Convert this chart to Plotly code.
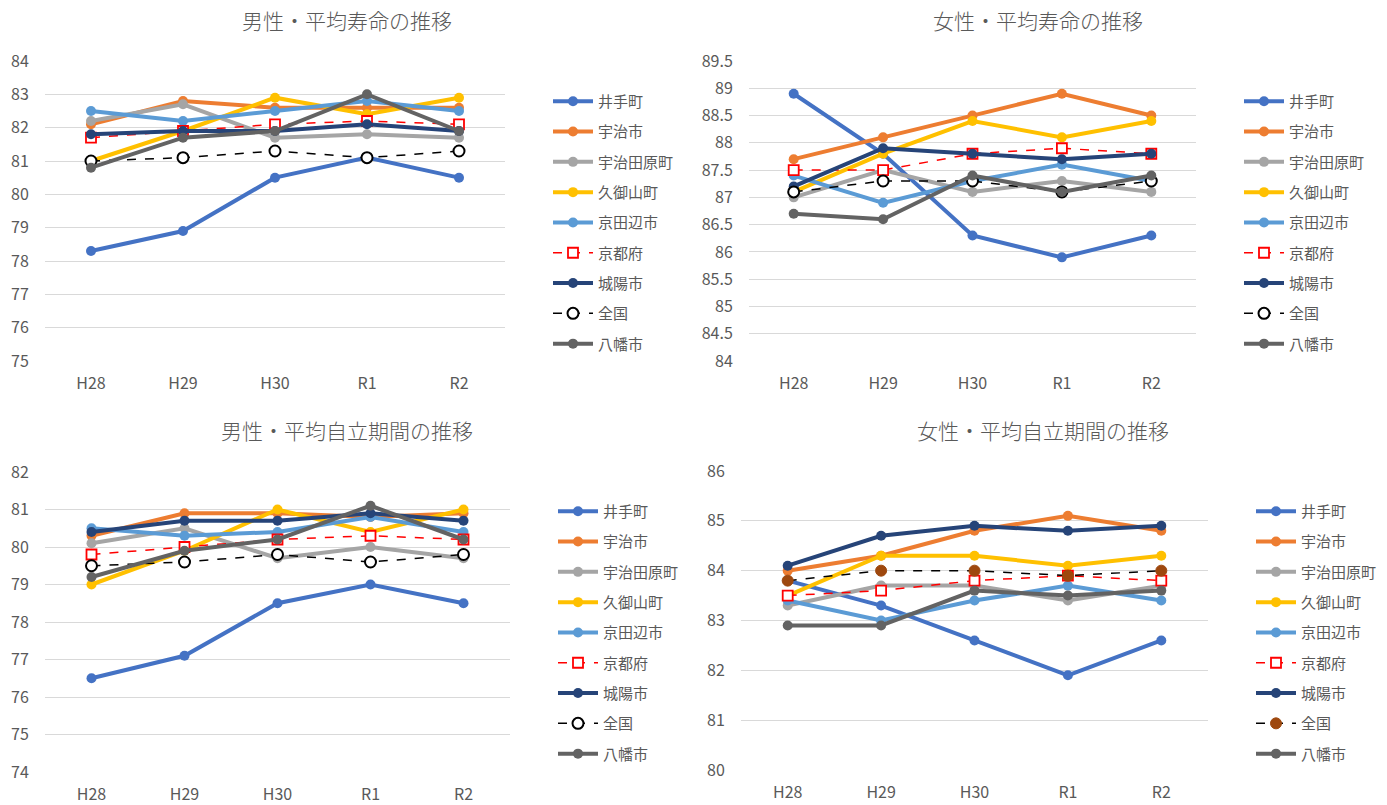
import plotly.graph_objects as go

W, H = 1387, 805

years = ["H28", "H29", "H30", "R1", "R2"]
areas = ["井手町", "宇治市", "宇治田原町", "久御山町", "京田辺市", "京都府", "城陽市", "全国", "八幡市"]

# 男性・平均寿命
male_life = {
    "井手町":     [78.3, 78.9, 80.5, 81.1, 80.5],
    "宇治市":     [82.1, 82.8, 82.6, 82.6, 82.6],
    "宇治田原町": [82.2, 82.7, 81.7, 81.8, 81.7],
    "久御山町":   [81.0, 81.9, 82.9, 82.4, 82.9],
    "京田辺市":   [82.5, 82.2, 82.5, 82.8, 82.5],
    "京都府":     [81.7, 81.9, 82.1, 82.2, 82.1],
    "城陽市":     [81.8, 81.9, 81.9, 82.1, 81.9],
    "全国":       [81.0, 81.1, 81.3, 81.1, 81.3],
    "八幡市":     [80.8, 81.7, 81.9, 83.0, 81.9],
}

# 女性・平均寿命
female_life = {
    "井手町":     [88.9, 87.8, 86.3, 85.9, 86.3],
    "宇治市":     [87.7, 88.1, 88.5, 88.9, 88.5],
    "宇治田原町": [87.0, 87.5, 87.1, 87.3, 87.1],
    "久御山町":   [87.1, 87.8, 88.4, 88.1, 88.4],
    "京田辺市":   [87.4, 86.9, 87.3, 87.6, 87.3],
    "京都府":     [87.5, 87.5, 87.8, 87.9, 87.8],
    "城陽市":     [87.2, 87.9, 87.8, 87.7, 87.8],
    "全国":       [87.1, 87.3, 87.3, 87.1, 87.3],
    "八幡市":     [86.7, 86.6, 87.4, 87.1, 87.4],
}

# 男性・平均自立期間
male_indep = {
    "井手町":     [76.5, 77.1, 78.5, 79.0, 78.5],
    "宇治市":     [80.3, 80.9, 80.9, 80.8, 80.9],
    "宇治田原町": [80.1, 80.5, 79.7, 80.0, 79.7],
    "久御山町":   [79.0, 79.9, 81.0, 80.4, 81.0],
    "京田辺市":   [80.5, 80.3, 80.4, 80.8, 80.4],
    "京都府":     [79.8, 80.0, 80.2, 80.3, 80.2],
    "城陽市":     [80.4, 80.7, 80.7, 80.9, 80.7],
    "全国":       [79.5, 79.6, 79.8, 79.6, 79.8],
    "八幡市":     [79.2, 79.9, 80.2, 81.1, 80.2],
}

# 女性・平均自立期間
female_indep = {
    "井手町":     [83.8, 83.3, 82.6, 81.9, 82.6],
    "宇治市":     [84.0, 84.3, 84.8, 85.1, 84.8],
    "宇治田原町": [83.3, 83.7, 83.7, 83.4, 83.7],
    "久御山町":   [83.5, 84.3, 84.3, 84.1, 84.3],
    "京田辺市":   [83.4, 83.0, 83.4, 83.7, 83.4],
    "京都府":     [83.5, 83.6, 83.8, 83.9, 83.8],
    "城陽市":     [84.1, 84.7, 84.9, 84.8, 84.9],
    "全国":       [83.8, 84.0, 84.0, 83.9, 84.0],
    "八幡市":     [82.9, 82.9, 83.6, 83.5, 83.6],
}

colors = {
    "井手町": "#4472C4",
    "宇治市": "#ED7D31",
    "宇治田原町": "#A5A5A5",
    "久御山町": "#FFC000",
    "京田辺市": "#5B9BD5",
    "京都府": "#FF0000",
    "城陽市": "#264478",
    "全国": "#000000",
    "八幡市": "#636363",
}

FONT = "Noto Sans CJK JP"
TXT = "#595959"
GRID = "#D9D9D9"

# panel: title, data, y-range, dtick, plot box in px (x0, x1, ytop, ybottom), legend box (x, ytop)
panels = [
    dict(title="男性・平均寿命の推移", data=male_life, yr=(75, 84), dt=1,
         box=(45, 505, 61, 361), leg=(548, 85), tc=(347, 20), nat_fill="white"),
    dict(title="女性・平均寿命の推移", data=female_life, yr=(84, 89.5), dt=0.5,
         box=(749, 1196, 61, 361), leg=(1239, 85), tc=(1038, 20), nat_fill="white"),
    dict(title="男性・平均自立期間の推移", data=male_indep, yr=(74, 82), dt=1,
         box=(45, 510, 472, 772), leg=(553, 495), tc=(347, 430), nat_fill="white"),
    dict(title="女性・平均自立期間の推移", data=female_indep, yr=(80, 86), dt=1,
         box=(741, 1208, 471, 770), leg=(1251, 495), tc=(1043, 430), nat_fill="#9E480E"),
]

fig = go.Figure()
layout = dict(
    width=W, height=H,
    margin=dict(l=0, r=0, t=0, b=0, autoexpand=False),
    paper_bgcolor="white", plot_bgcolor="white",
    font=dict(family=FONT, color=TXT, size=14),
    showlegend=True,
    annotations=[],
)

for i, p in enumerate(panels, start=1):
    sfx = "" if i == 1 else str(i)
    xa, ya = f"x{sfx}", f"y{sfx}"
    leg_id = "legend" if i == 1 else f"legend{i}"
    for name in areas:
        vals = p["data"][name]
        c = colors[name]
        if name == "京都府":
            line = dict(color=c, width=1.5, dash="dash")
            marker = dict(symbol="square", size=10, color="white",
                          line=dict(color=c, width=1.8))
        elif name == "全国":
            line = dict(color=c, width=1.5, dash="dash")
            if p["nat_fill"] == "white":
                marker = dict(symbol="circle", size=11, color="white",
                              line=dict(color=c, width=2))
            else:
                marker = dict(symbol="circle", size=11, color=p["nat_fill"],
                              line=dict(color=p["nat_fill"], width=1))
        else:
            line = dict(color=c, width=4)
            marker = dict(symbol="circle", size=10, color=c, line=dict(width=0))
        fig.add_trace(go.Scatter(
            x=years, y=vals, name=name, mode="lines+markers",
            line=line, marker=marker, xaxis=xa, yaxis=ya,
            legend=leg_id, legendgroup=f"{i}-{name}",
        ))

    x0, x1, yt, yb = p["box"]
    layout[f"xaxis{sfx}"] = dict(
        domain=[x0 / W, x1 / W], anchor=ya, type="category", automargin=False,
        range=[-0.5, 4.5], showgrid=False, zeroline=False, showline=False,
        ticks="outside", ticklen=8, tickcolor="rgba(0,0,0,0)",
        tickfont=dict(size=16, color=TXT, family=FONT), fixedrange=True,
    )
    layout[f"yaxis{sfx}"] = dict(
        domain=[1 - yb / H, 1 - yt / H], anchor=xa, automargin=False,
        range=list(p["yr"]), dtick=p["dt"], tick0=p["yr"][0],
        showgrid=True, gridcolor=GRID, gridwidth=1, zeroline=False,
        showline=False, ticks="outside", ticklen=12,
        tickcolor="rgba(0,0,0,0)",
        tickfont=dict(size=16, color=TXT, family=FONT), fixedrange=True,
    )
    lx, ly = p["leg"]
    layout[leg_id] = dict(
        x=lx / W, y=1 - ly / H, xanchor="left", yanchor="top",
        bgcolor="rgba(0,0,0,0)", font=dict(size=15, color=TXT, family=FONT),
        traceorder="grouped", tracegroupgap=7.8, itemwidth=40,
        itemclick=False, itemdoubleclick=False,
    )
    tx, ty = p["tc"]
    layout["annotations"].append(dict(
        text=p["title"], x=tx / W, y=1 - ty / H, xref="paper", yref="paper",
        xanchor="center", yanchor="middle", showarrow=False,
        font=dict(size=21, color=TXT, family=FONT, weight=300),
    ))

fig.update_layout(**layout)
fig.write_html("out.html")
